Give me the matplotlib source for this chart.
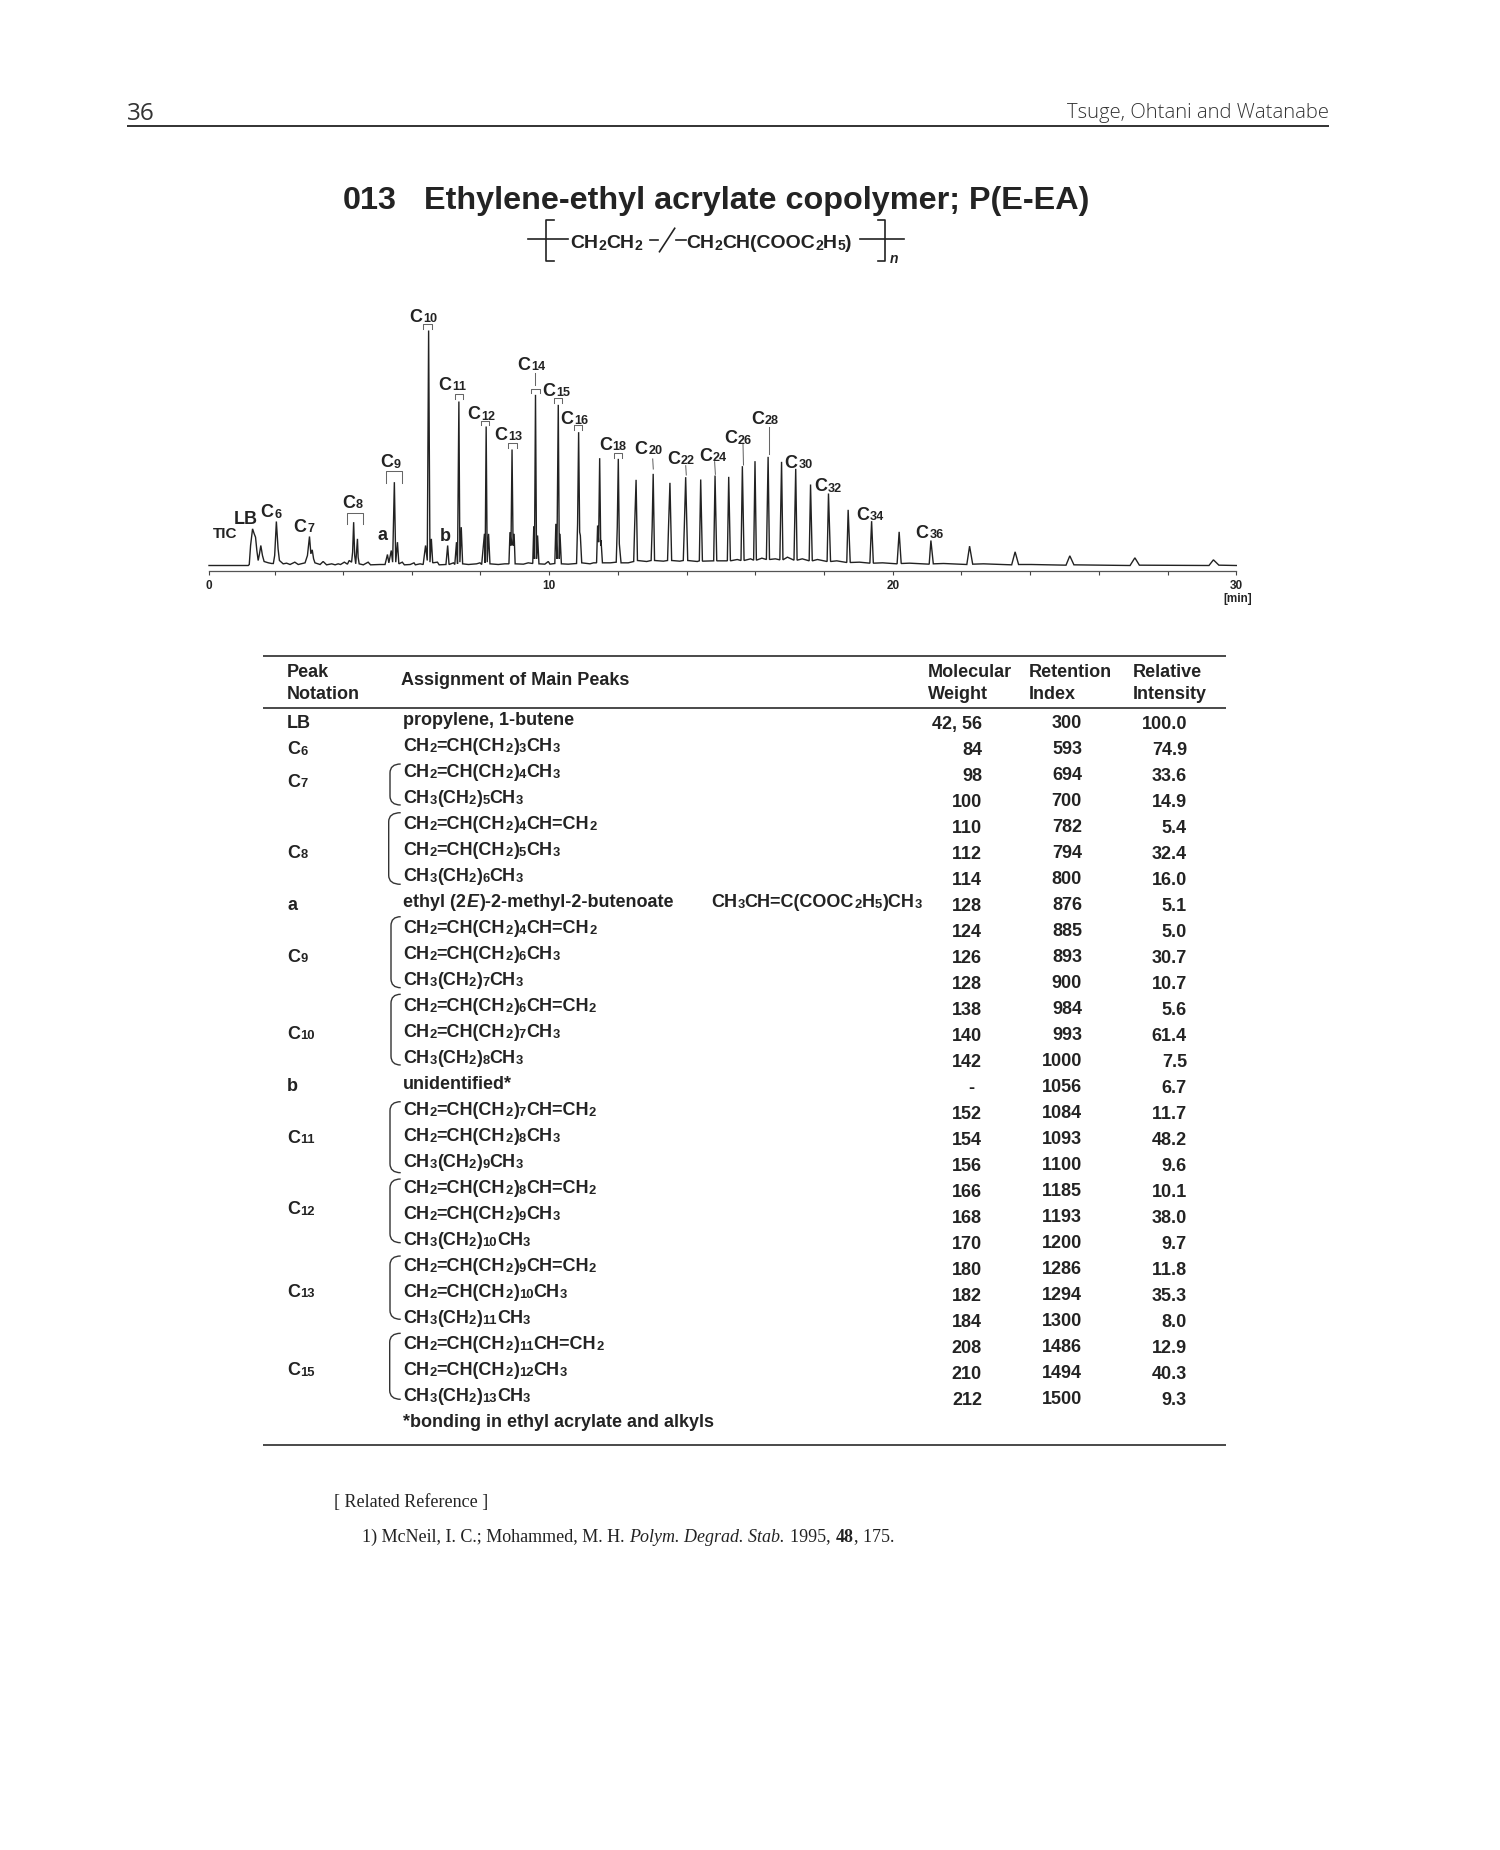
import re
import numpy as np
import matplotlib
matplotlib.use("Agg")
import matplotlib.pyplot as plt
from matplotlib.path import Path
from matplotlib.patches import PathPatch

plt.rcParams["text.kerning_factor"] = 6

# ---------- data ----------
trace_time = [
 0.00,1.19,1.22,1.26,1.32,1.37,1.41,1.45,1.49,1.53,1.57,1.62,1.67,1.80,1.90,1.95,1.99,2.04,2.09,2.13,
 2.24,2.34,2.44,2.58,2.68,2.88,2.95,3.01,3.05,3.09,3.13,3.17,3.32,3.41,3.51,3.66,3.76,3.85,3.92,4.03,
 4.12,4.17,4.24,4.27,4.30,4.33,4.36,4.41,4.43,4.46,4.58,4.72,4.79,5.06,5.21,5.28,5.32,5.39,5.43,5.48,
 5.52,5.57,5.61,5.71,5.77,5.94,6.05,6.09,6.23,6.32,6.39,6.44,6.48,6.52,6.56,6.60,6.74,6.79,6.99,7.04,
 7.08,7.21,7.25,7.30,7.33,7.37,7.40,7.44,7.48,7.65,7.89,7.99,8.04,8.12,8.14,8.17,8.20,8.24,8.28,8.52,
 8.71,8.83,8.86,8.89,8.92,8.95,8.98,9.01,9.25,9.39,9.52,9.55,9.57,9.60,9.63,9.66,9.70,9.87,9.97,10.02,
 10.16,10.19,10.22,10.26,10.29,10.31,10.35,10.55,10.79,10.82,10.85,10.88,10.90,10.94,11.18,11.28,11.37,
 11.40,11.43,11.46,11.49,11.50,11.54,11.77,11.94,11.97,12.00,12.03,12.08,12.29,12.45,12.48,12.52,12.56,
 12.83,12.96,12.99,13.02,13.06,13.32,13.44,13.47,13.51,13.56,13.80,13.90,13.93,13.97,14.03,14.31,14.37,
 14.41,14.46,14.79,14.83,14.88,15.19,15.23,15.28,15.48,15.59,15.63,15.68,15.87,15.96,16.00,16.04,16.20,
 16.33,16.38,16.42,16.59,16.72,16.77,16.81,16.94,17.13,17.18,17.22,17.37,17.57,17.61,17.66,17.81,18.09,
 18.13,18.19,18.37,18.66,18.70,18.76,19.03,19.33,19.38,19.43,19.70,20.12,20.18,20.24,20.48,21.06,21.11,
 21.18,21.48,22.16,22.24,22.33,22.64,23.46,23.56,23.66,24.03,25.04,25.15,25.27,26.90,27.04,27.17,29.20,
 29.33,29.49,30.00]
trace_signal = [
 0,0,3,60,110,95,85,45,15,35,60,30,12,8,6,6,30,132,50,15,
 5,7,3,10,3,8,30,87,35,47,20,8,3,12,2,5,2,5,3,10,
 4,15,10,40,130,30,5,80,25,5,2,10,2,3,3,33,8,45,10,250,
 10,70,5,10,2,3,8,2,5,3,60,15,705,10,80,8,10,2,3,60,
 3,8,3,70,5,492,10,115,5,3,5,8,3,95,8,417,10,95,5,3,
 5,5,100,60,348,60,95,5,4,8,6,118,20,512,20,90,5,4,12,4,
 6,125,20,482,20,95,5,4,6,125,400,100,90,8,5,8,8,
 120,70,322,60,75,8,8,10,115,320,65,8,8,12,125,257,15,
 12,15,115,275,15,13,15,120,248,15,13,15,115,265,15,12,14,
 258,13,14,270,14,14,266,14,18,15,298,15,20,16,313,16,22,
 18,326,18,20,17,311,17,25,16,290,16,20,14,243,14,18,12,
 216,12,14,9,167,9,10,7,133,7,8,5,101,6,7,4,75,
 5,6,3,58,4,5,2,41,3,3,1,29,2,0,23,1,0,
 17,1,0]
axis_minutes = [0,2,4,6,8,10,12,14,16,18,20,22,24,26,28,30]
axis_pixels = [209,275,343.3,412.3,480.3,549.3,618.3,686.7,755,824,893,961.3,1030.3,1099,1168,1236.3]
axis_labels = {0:"0",10:"10",20:"20",30:"30"}

peak_labels = ["C6","C7","C8","C9","C10","C11","C12","C13","C14","C15","C16","C18","C20","C22",
               "C24","C26","C28","C30","C32","C34","C36"]
peak_label_x = [260.5,293.5,341.8,380.2,409.5,438.2,467.5,494.2,517.5,542.5,560.5,598.8,634.5,667.2,
                699,724,751,784.5,813.8,856,915.7]
peak_label_y = [511,526,502,461,316,384,413,433.7,363.7,389.7,417.7,443.7,447.7,458,
                454.7,437,417.3,462,485,513.7,531.7]

brackets = [(347.3,362.7,512.7,524.3),(386.3,401.7,471.3,482.7),(423.3,432,324.3,329.3),
            (454.7,462.7,394.3,399.3),(480.7,489.3,420.7,425.3),(508.3,516.7,443.3,448.3),
            (531.3,539.7,388.7,393.3),(553.7,561.7,398.3,403.3),(573.7,582.3,425,430),(613.7,622,452.7,457.7)]
leaders = [(534.7,372.7,534.7,385),(652.7,459,653.3,469),(685.7,465.7,686.3,475),
           (714.6,461.7,715.4,474.3),(743,444,743.5,465),(769.2,426.7,769.2,454)]

assignments = ["propylene, 1-butene","CH2=CH(CH2)3CH3","CH2=CH(CH2)4CH3","CH3(CH2)5CH3",
 "CH2=CH(CH2)4CH=CH2","CH2=CH(CH2)5CH3","CH3(CH2)6CH3","ethyl (2E)-2-methyl-2-butenoate",
 "CH2=CH(CH2)4CH=CH2","CH2=CH(CH2)6CH3","CH3(CH2)7CH3",
 "CH2=CH(CH2)6CH=CH2","CH2=CH(CH2)7CH3","CH3(CH2)8CH3","unidentified*",
 "CH2=CH(CH2)7CH=CH2","CH2=CH(CH2)8CH3","CH3(CH2)9CH3",
 "CH2=CH(CH2)8CH=CH2","CH2=CH(CH2)9CH3","CH3(CH2)10CH3",
 "CH2=CH(CH2)9CH=CH2","CH2=CH(CH2)10CH3","CH3(CH2)11CH3",
 "CH2=CH(CH2)11CH=CH2","CH2=CH(CH2)12CH3","CH3(CH2)13CH3","*bonding in ethyl acrylate and alkyls"]
molecular_weight = ["42, 56","84","98","100","110","112","114","128","124","126","128","138","140","142","-",
 "152","154","156","166","168","170","180","182","184","208","210","212"]
retention_index = ["300","593","694","700","782","794","800","876","885","893","900","984","993","1000","1056",
 "1084","1093","1100","1185","1193","1200","1286","1294","1300","1486","1494","1500"]
relative_intensity = ["100.0","74.9","33.6","14.9","5.4","32.4","16.0","5.1","5.0","30.7","10.7","5.6","61.4","7.5","6.7",
 "11.7","48.2","9.6","10.1","38.0","9.7","11.8","35.3","8.0","12.9","40.3","9.3"]
notations = ["LB","C6","C7","C8","a","C9","C10","b","C11","C12","C13","C15"]
notation_y = [721.7,748.3,780.7,851.7,904.3,955.7,1032.7,1085,1136.7,1208.3,1290.7,1369.3]
braces = [(764,805,390),(812.7,884.3,388.7),(916.7,987.7,391),(994.3,1065,391),(1101.7,1172.7,390),
          (1179,1242.7,390),(1256,1319.3,390),(1333.3,1399.3,389.7)]

# ---------- page ----------
INK = "#232323"
SANS = "Liberation Sans"
fig = plt.figure(figsize=(15, 18.5), dpi=100, facecolor="white")
page = fig.add_axes([0, 0, 1, 1])
page.set_xlim(0, 1500); page.set_ylim(1850, 0); page.axis("off")
fig.canvas.draw()
renderer = fig.canvas.get_renderer()

def rich(x, base, segs, fs, family=SANS, weight="bold", color=INK, gap=0.2):
    """segs: list of (text, size factor, style, baseline shift in px)"""
    cx = x
    for s, k, style, dy in segs:
        t = page.text(cx, base + dy, s, fontsize=fs * k, family=family, fontweight=weight,
                      fontstyle=style, va="baseline", ha="left", color=color)
        cx += t.get_window_extent(renderer).width + gap
    return cx

def chem(s, k=0.72, dy=0.6):
    return [(p, k, "normal", dy) if p.isdigit() else (p, 1.0, "normal", 0)
            for p in re.split(r"(\d+)", s) if p]

def txt(x, base, s, fs, ha="left", **kw):
    kw.setdefault("family", SANS); kw.setdefault("fontweight", "bold"); kw.setdefault("color", INK)
    return page.text(x, base, s, fontsize=fs, ha=ha, va="baseline", **kw)

def rule(x0, x1, y, lw=1.2, color="#3a3a3a"):
    page.plot([x0, x1], [y, y], color=color, lw=lw, solid_capstyle="butt")

# running head
txt(127, 120, "36", 17.5, family="Open Sans", fontweight="normal", color="#333333")
txt(1329, 118, "Tsuge, Ohtani and Watanabe", 14.6, ha="right", family="Open Sans", fontweight="light", color="#333333")
rule(127, 1329, 126.3, lw=1.3, color="#222222")

# title
txt(343, 209, "013", 23.3)
txt(424, 209, "Ethylene-ethyl acrylate copolymer; P(E-EA)", 23.3)

# repeat-unit formula
FS_F = 14
LW_F = 1.2
for a, b in [(528, 568.4), (860, 904)]:
    page.plot([a, b], [239.3, 239.3], color=INK, lw=LW_F)
page.plot([553.7, 546, 546, 553.7], [220, 220, 261, 261], color=INK, lw=LW_F)
page.plot([878, 885, 885, 878], [220, 220, 261, 261], color=INK, lw=LW_F)
rich(570, 247.5, chem("CH2CH2", 0.72, 2.5), FS_F, gap=0.2)
page.plot([650, 658], [240, 240], color=INK, lw=LW_F)
page.plot([659.5, 674.7], [251.7, 228.3], color=INK, lw=LW_F)
page.plot([676.3, 685.8], [240, 240], color=INK, lw=LW_F)
rich(686, 247.5, chem("CH2CH(COOC2H5)", 0.72, 2.5), FS_F, gap=0.2)
txt(890, 263, "n", 10, fontstyle="italic")

# ---------- chromatogram ----------
AX_L, AX_R, AX_B, AX_T, BASE = 209.0, 1236.3, 570.7, 310.0, 565.5
chrom = fig.add_axes([AX_L / 1500, 1 - AX_B / 1850, (AX_R - AX_L) / 1500, (AX_B - AX_T) / 1850])
chrom.patch.set_alpha(0)
chrom.set_xscale("function", functions=(lambda t: np.interp(t, axis_minutes, axis_pixels),
                                        lambda p: np.interp(p, axis_pixels, axis_minutes)))
chrom.plot(trace_time, trace_signal, color="#222222", lw=1.0, solid_joinstyle="miter", clip_on=False)
chrom.set_xlim(0, 30)
chrom.set_ylim(-(AX_B - BASE) * 3, (BASE - AX_T) * 3)
chrom.set_yticks([])
for s in ("top", "left", "right"):
    chrom.spines[s].set_visible(False)
chrom.spines["bottom"].set_color("#555555"); chrom.spines["bottom"].set_linewidth(0.9)
chrom.set_xticks(axis_minutes)
chrom.set_xticklabels([axis_labels.get(m, "") for m in axis_minutes], fontsize=8.5,
                      fontweight="bold", family=SANS, color=INK)
chrom.tick_params(axis="x", length=3.2, width=0.8, color="#444444", pad=3.2)
chrom.minorticks_off()
txt(1237.3, 602, "[min]", 8.5, ha="center")

txt(212.7, 537.5, "TIC", 11)
txt(233.5, 524.5, "LB", 13)
txt(382.7, 540.5, "a", 13, ha="center")
txt(445, 541, "b", 13, ha="center")
for s, x, y in zip(peak_labels, peak_label_x, peak_label_y):
    rich(x, y + 6.2, [(s[0], 1, "normal", 0), (s[1:], 0.7, "normal", 0.3)], 13, gap=0.8)
for x0, x1, y0, y1 in brackets:
    page.plot([x0, x0, x1, x1], [y1, y0, y0, y1], color="#666666", lw=0.75)
for x0, y0, x1, y1 in leaders:
    page.plot([x0, x1], [y0, y1], color="#666666", lw=0.75)

# ---------- table ----------
FS = 13
rule(263, 1226, 656, lw=1.3); rule(263, 1226, 707.7, lw=1.3); rule(263, 1226, 1445, lw=1.3)
for x, lines in [(287.2, ("Peak", "Notation")), (927.8, ("Molecular", "Weight")),
                 (1028.8, ("Retention", "Index")), (1132.8, ("Relative", "Intensity"))]:
    txt(x, 677, lines[0], FS)
    txt(x, 699, lines[1], FS)
txt(401, 685, "Assignment of Main Peaks", FS)

ROW0, ROW = 720.0, 26.0
for k, a in enumerate(assignments):
    base = ROW0 + ROW * k + 5.2
    if a.startswith("CH"):
        rich(403, base, chem(a), FS)
    elif "(2E)" in a:
        rich(403.3, base, [("ethyl (2", 1, "normal", 0), ("E", 1, "italic", 0),
                           (")-2-methyl-2-butenoate", 1, "normal", 0)], FS)
        rich(711, base, chem("CH3CH=C(COOC2H5)CH3"), FS)
    else:
        txt(403.3, base, a, FS)
for k, (m, r, i) in enumerate(zip(molecular_weight, retention_index, relative_intensity)):
    y = ROW0 + ROW * k
    txt(974 if m == "-" else 982, y + 9.3, m, FS, ha="right")
    txt(1082, y + 8.3, r, FS, ha="right")
    txt(1187, y + 9, i, FS, ha="right")
for s, y in zip(notations, notation_y):
    if s[0] == "C":
        rich(287.2, y + 6.0, [("C", 1, "normal", 0), (s[1:], 0.72, "normal", 0.6)], FS)
    else:
        txt(287.2, y + 6.0, s, FS)
for top, bot, x in braces:
    tip = 400.7
    verts = [(tip, top), (x, top), (x, top + 9), (x, bot - 9), (x, bot), (tip, bot)]
    codes = [Path.MOVETO, Path.CURVE3, Path.CURVE3, Path.LINETO, Path.CURVE3, Path.CURVE3]
    page.add_patch(PathPatch(Path(verts, codes), fill=False, edgecolor="#333333", lw=1.0))

# ---------- reference ----------
SERIF = "Liberation Serif"
REF_FS = 13.0
txt(333.5, 1507, "[ Related Reference ]", REF_FS, family=SERIF, fontweight="normal")
end = rich(362, 1541.5, [("1) McNeil, I. C.; Mohammed, M. H. ", 1, "normal", 0)], REF_FS, family=SERIF, weight="normal", gap=0.5)
end = rich(end, 1541.5, [("Polym. Degrad. Stab. ", 1, "italic", 0)], REF_FS, family=SERIF, weight="normal", gap=0.5)
end = rich(end, 1541.5, [("1995, ", 1, "normal", 0)], REF_FS, family=SERIF, weight="normal", gap=0.5)
end = rich(end, 1541.5, [("48", 1, "normal", 0)], REF_FS, family=SERIF, weight="bold", gap=0.2)
rich(end, 1541.5, [(", 175.", 1, "normal", 0)], REF_FS, family=SERIF, weight="normal")

page.set_xlim(0, 1500); page.set_ylim(1850, 0)
fig.savefig("out.png", dpi=100, facecolor="white")
